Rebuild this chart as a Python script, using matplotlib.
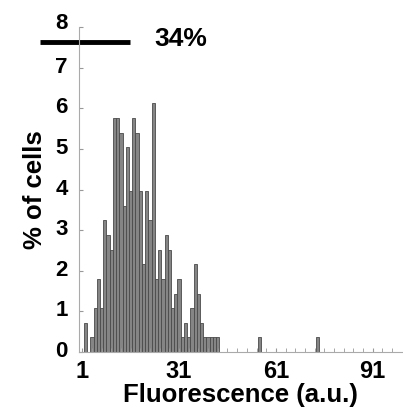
import numpy as np
import matplotlib.transforms as mtransforms
from matplotlib import pyplot as plt

plt.rcParams['font.family'] = ['Liberation Sans', 'DejaVu Sans']

# histogram bins (fluorescence, a.u.) and % of cells
bin_centers = list(range(2, 45)) + [56, 74]
percent_cells = [0.72, 0.0, 0.36, 1.08, 1.8, 1.08, 3.24, 2.88, 2.52,
                 5.76, 5.76, 5.4, 3.6, 5.04, 3.96, 5.76, 5.4, 3.96, 2.16,
                 3.96, 3.24, 6.12, 1.8, 2.52, 1.8, 2.88, 2.52, 1.08, 1.44,
                 1.8, 0.36, 0.72, 0.36, 1.08, 2.16, 1.44, 0.72, 0.36, 0.36,
                 0.36, 0.36, 0.36, 0.0, 0.36, 0.36]

x_ticks = [1, 31, 61, 91]
y_ticks = [0, 1, 2, 3, 4, 5, 6, 7, 8]
threshold_label = '34%'

fig = plt.figure(figsize=(4.03, 4.08), dpi=100)
ax = fig.add_axes([0.196, 0.137, 0.801, 0.797])

ax.bar(bin_centers, percent_cells, width=1.0, color='#858585',
       edgecolor='#4a4a4a', linewidth=0.6)

ax.set_xlim(0, 100)
ax.set_ylim(0, 8)
ax.set_xticks(x_ticks)
ax.set_xticks(np.arange(1, 100, 3), minor=True)
ax.set_yticks(y_ticks)
ax.tick_params(axis='both', direction='in', length=3, color='#999999', pad=8)
ax.tick_params(axis='y', labelsize=16)
ax.tick_params(axis='x', labelsize=17, pad=6)
ax.tick_params(axis='x', which='minor', direction='in', length=3, color='#999999')

# nudge y labels up a little, like the original ("8" sits above the line)
for lab, tick in zip(ax.get_yticklabels(), y_ticks):
    dy = 6 if tick == 8 else 3
    shift = mtransforms.ScaledTranslation(0, dy / 100, fig.dpi_scale_trans)
    lab.set_fontweight('bold')
    lab.set_transform(lab.get_transform() + shift)
for lab in ax.get_xticklabels():
    lab.set_fontweight('bold')

for side in ['top', 'right']:
    ax.spines[side].set_visible(False)
for side in ['left', 'bottom']:
    ax.spines[side].set_color('#aaaaaa')
    ax.spines[side].set_linewidth(0.8)

ax.set_xlabel('Fluorescence (a.u.)', fontsize=18.5, fontweight='bold', labelpad=0)
ax.set_ylabel('% of cells', fontsize=18.5, fontweight='bold', labelpad=6)

ax.plot([-12, 15.9], [7.64, 7.64], color='black', linewidth=3.5,
        clip_on=False, solid_capstyle='butt')
ax.text(23.3, 7.7, threshold_label, fontsize=19, fontweight='bold',
        va='center', ha='left')

fig.savefig('out.png', dpi=100)
